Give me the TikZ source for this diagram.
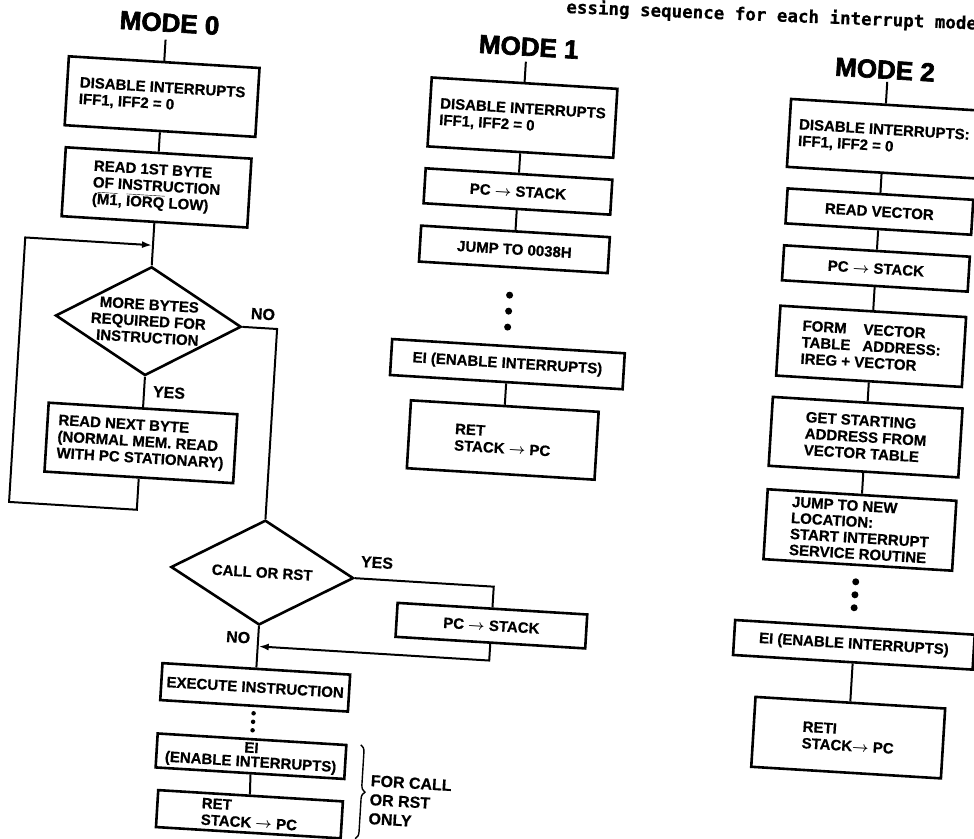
\documentclass[tikz,border=0pt]{standalone}
\usepackage{fontspec}
\setmainfont{Liberation Sans}[BoldFeatures={FakeBold=0.6}]
\newfontfamily\heavyfont[FakeBold=2.5]{Liberation Sans Bold}
\newfontfamily\captfont[FakeBold=0.5]{DejaVu Sans Mono Bold}
\usetikzlibrary{shapes.geometric,arrows.meta,decorations.pathreplacing}
\newcommand\toarr{{\boldmath$\rightarrow$}}
\newcommand\ovl[1]{$\overline{\hbox{#1}}$}
\begin{document}
\begin{tikzpicture}[x=1pt,y=-1pt,
  every node/.style={font=\fontsize{15}{16.5}\selectfont\bfseries, inner sep=2pt},
  box/.style={draw, line width=2.6pt, minimum width=188pt, minimum height=35pt, align=left},
  tallbox/.style={box, minimum height=69pt},
  decision/.style={draw, diamond, line width=2.6pt, inner sep=0pt},
  conn/.style={line width=2pt},
  arr/.style={conn, -{Latex[length=10pt,width=7pt]}},
  ttl/.style={font=\heavyfont\fontsize{26}{28}\selectfont, inner sep=0pt},
  yn/.style={font=\fontsize{16}{18}\selectfont\bfseries},
  bigdot/.style={circle, fill, inner sep=0pt, minimum size=7pt},
  smalldot/.style={circle, fill, inner sep=0pt, minimum size=4.5pt},
  bracestyle/.style={decorate, decoration={brace, amplitude=7pt}, line width=1.4pt},
]
\fill[white] (0,0) rectangle (974,838);
\useasboundingbox (0,0) rectangle (974,838);

\node[font=\captfont\fontsize{17.5}{18}\selectfont, anchor=base west, rotate=-2.3, inner sep=0pt] (cap) at (566,13) {essing sequence for each interrupt mode};

\begin{scope}[rotate around={-3.5:(487,419)}, transform shape]
% ---------------- MODE 0 ----------------
\node[ttl] (t0) at (146,43) {MODE 0};
\coordinate (t0s) at (143,60);
\node[tallbox, minimum width=191pt] (m0a) at (143,117) {DISABLE INTERRUPTS\\IFF1, IFF2 = 0};
\node[tallbox, minimum width=186pt] (m0b) at (143,208) {READ 1ST BYTE\\OF INSTRUCTION\\(\ovl{M1}, \ovl{IORQ} LOW)};
\node[decision, minimum width=186pt, minimum height=109pt,
      label={[align=center]center:MORE BYTES\\REQUIRED FOR\\INSTRUCTION}] (m0q) at (143,342) {};
\node[tallbox, minimum width=189pt] (m0c) at (143,464) {READ NEXT BYTE\\(NORMAL MEM. READ\\WITH PC STATIONARY)};
\node[decision, minimum width=183pt, minimum height=105pt,
      label={center:CALL OR RST}] (m0r) at (272,586) {};
\node[box, minimum width=190pt, minimum height=34pt] (m0p) at (504,625) {PC \toarr\ STACK};
\node[box, minimum height=37pt] (m0x) at (272,701) {EXECUTE INSTRUCTION};
\node[box, minimum width=189pt, minimum height=34pt, align=center, font=\fontsize{15}{14}\selectfont\bfseries] (m0e) at (272,770) {EI\\(ENABLE INTERRUPTS)};
\node[box, minimum width=185pt, minimum height=37pt] (m0t) at (274,828) {RET\\STACK \toarr\ PC};

\node[yn] (no1) at (257,328) {NO};
\node[yn] (yes1) at (168,412) {YES};
\node[yn] (yes2) at (386,569) {YES};
\node[yn] (no2) at (252,652) {NO};

\draw[conn] (t0s) -- (m0a.north);
\draw[conn] (m0a) -- (m0b);
\draw[conn] (m0b) -- (m0q);
\draw[conn] (m0q) -- (m0c);
\coordinate (lpA) at (143,531);
\coordinate (lpB) at (15,531);
\coordinate (lpC) at (15,266);
\coordinate (lpD) at (142,266);
\draw[arr] (m0c.south) -- (lpA) -- (lpB) -- (lpC) -- (lpD);
\draw[conn] (m0q.east) -| (m0r.north);
\draw[conn] (m0r.south) -- (m0x.north);
\draw[conn] (m0r.east) -| (m0p.north);
\coordinate (rtA) at (504,660);
\coordinate (rtB) at (273,660);
\draw[arr] (m0p.south) -- (rtA) -- (rtB);
\node[smalldot] (d01) at (272,727) {};
\node[smalldot] (d02) at (272,735.5) {};
\node[smalldot] (d03) at (272,744) {};
\draw[conn] (m0e) -- (m0t);
\coordinate (brA) at (381,752);
\coordinate (brB) at (381,846);
\draw[bracestyle] (brA) -- (brB);
\node[anchor=west, align=left, font=\fontsize{16}{19}\selectfont\bfseries] (brl) at (391,806) {FOR CALL\\OR RST\\ONLY};

% ---------------- MODE 1 ----------------
\node[ttl] (t1) at (506,45) {MODE 1};
\coordinate (t1s) at (504,60);
\node[tallbox, minimum width=186pt] (m1a) at (504,116) {DISABLE INTERRUPTS\\IFF1, IFF2 = 0};
\node[box, minimum width=187pt] (m1b) at (504,190) {PC \toarr\ STACK};
\node[box, minimum width=189pt, minimum height=36pt] (m1c) at (504,248) {JUMP TO 0038H};
\node[bigdot] (d11) at (502,294) {};
\node[bigdot] (d12) at (502,310) {};
\node[bigdot] (d13) at (502,326) {};
\node[box, minimum width=233pt, minimum height=36pt] (m1d) at (504,363) {EI (ENABLE INTERRUPTS)};
\node[tallbox, minimum height=68pt] (m1e) at (504,439) {RET\\STACK \toarr\ PC};
\draw[conn] (t1s) -- (m1a.north);
\draw[conn] (m1a) -- (m1b);
\draw[conn] (m1b) -- (m1c);
\draw[conn] (m1d) -- (m1e);

% ---------------- MODE 2 ----------------
\node[ttl] (t2) at (863,46) {MODE 2};
\coordinate (t2s) at (866,58);
\node[tallbox, minimum width=190pt, minimum height=68pt] (m2a) at (866,115) {DISABLE INTERRUPTS:\\IFF1, IFF2 = 0};
\node[box, minimum width=186pt] (m2b) at (866,188) {READ VECTOR};
\node[box, minimum width=186pt] (m2c) at (866,245) {PC \toarr\ STACK};
\node[tallbox, minimum width=186pt, minimum height=70pt] (m2d) at (866,323) {\makebox[61pt][l]{FORM}VECTOR\\\makebox[61pt][l]{TABLE}ADDRESS:\\IREG + VECTOR};
\node[tallbox, minimum width=190pt] (m2e) at (866,414) {GET STARTING\\ADDRESS FROM\\VECTOR TABLE};
\node[tallbox, minimum width=189pt, minimum height=70pt, font=\fontsize{15}{16}\selectfont\bfseries] (m2f) at (866,507) {JUMP TO NEW\\LOCATION:\\START INTERRUPT\\SERVICE ROUTINE};
\node[bigdot] (d21) at (865,559) {};
\node[bigdot] (d22) at (865,572) {};
\node[bigdot] (d23) at (865,585) {};
\node[box, minimum width=240pt] (m2g) at (867,622) {EI (ENABLE INTERRUPTS)};
\node[tallbox, minimum width=190pt, minimum height=70pt] (m2h) at (867,715) {RETI\\STACK\toarr\ PC};
\draw[conn] (t2s) -- (m2a.north);
\draw[conn] (m2a) -- (m2b);
\draw[conn] (m2b) -- (m2c);
\draw[conn] (m2c) -- (m2d);
\draw[conn] (m2d) -- (m2e);
\draw[conn] (m2e) -- (m2f);
\draw[conn] (m2g) -- (m2h);
\end{scope}
\end{tikzpicture}
\end{document}
